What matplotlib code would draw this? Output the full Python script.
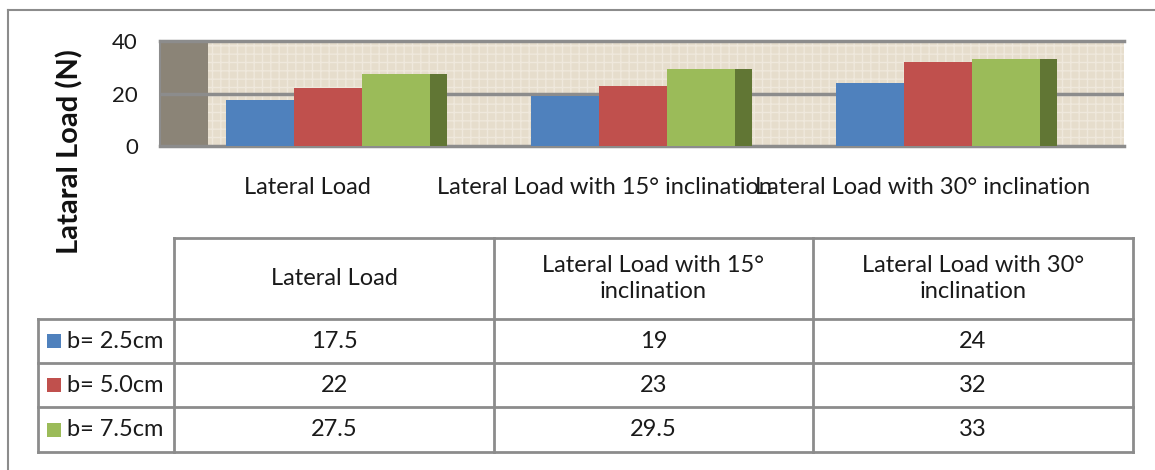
import matplotlib
matplotlib.use("Agg")
import matplotlib.pyplot as plt
import numpy as np
from matplotlib.patches import Rectangle

# ---- data ----
categories = ["Lateral Load", "Lateral Load with 15° inclination", "Lateral Load with 30° inclination"]
table_headers = ["Lateral Load", "Lateral Load with 15°\ninclination", "Lateral Load with 30°\ninclination"]
series_names = ["b= 2.5cm", "b= 5.0cm", "b= 7.5cm"]
b25 = [17.5, 19, 24]
b50 = [22, 23, 32]
b75 = [27.5, 29.5, 33]
table_text = [["17.5", "19", "24"], ["22", "23", "32"], ["27.5", "29.5", "33"]]
yticks = [0, 20, 40]
ylabel = "Lataral Load (N)"

colors = ["#4f81bd", "#c0504d", "#9bbb59"]
side_color = "#617634"
grid_color = "#8c8c8c"

plt.rcParams['font.family'] = ['Lato', 'DejaVu Sans']

W, H = 1155, 470
fig = plt.figure(figsize=(W / 100, H / 100), dpi=100)

def fx(px):
    return px / W

def fy(py):
    return 1 - py / H

# overlay axes in pixel coordinates for frame & table
ov = fig.add_axes([0, 0, 1, 1], zorder=0)
ov.set_xlim(0, W)
ov.set_ylim(H, 0)
ov.axis("off")

# outer frame (left & top visible)
ov.plot([8, 8], [470, 10], color="#8c8c8c", lw=1.5)
ov.plot([8, 1155], [10, 10], color="#8c8c8c", lw=1.5)

# ---- chart axes ----
ax_l, ax_r, ax_t, ax_b = 160, 1124, 41, 146
ax = fig.add_axes([fx(ax_l), fy(ax_b), fx(ax_r - ax_l), (ax_b - ax_t) / H], zorder=2)
unit = 305.0
x_left = (ax_l - 328) / unit
x_right = (ax_r - 328) / unit
wall_right = (208 - 328) / unit
ax.set_xlim(x_left, x_right)
ax.set_ylim(0, 40)

# background linen-like
ax.set_facecolor("#e6ddcc")
ax.axvspan(x_left, wall_right, color="#8b8477", zorder=0.5, lw=0)
ax.add_patch(Rectangle((wall_right, 0), x_right - wall_right, 40, facecolor="none",
                       edgecolor="#efe8dc", hatch="++", lw=0, zorder=0.4))
ax.axhline(20, color=grid_color, lw=2.5, zorder=1)

w = 68 / unit
side_w = 17 / unit
x = np.arange(len(categories))
series = [b25, b50, b75]
for j, vals in enumerate(series):
    ax.bar(x + (j - 1) * w, vals, width=w, color=colors[j], zorder=3, linewidth=0)
# visible side face of last series
ax.bar(x + 1.5 * w + side_w / 2, b75, width=side_w, color=side_color, zorder=3, linewidth=0)

ax.set_yticks(yticks)
ax.set_yticklabels([str(v) for v in yticks], fontsize=16, color="#1a1a1a")
ax.tick_params(axis="y", length=0, pad=16)
label_pos = x + np.array([-0.066, -0.095, -0.049])
ax.set_xticks(label_pos)
ax.set_xticklabels(categories, fontsize=17, color="#1a1a1a")
ax.tick_params(axis="x", length=0, pad=22)

ax.spines["right"].set_visible(False)
for s in ["top", "bottom", "left"]:
    ax.spines[s].set_color(grid_color)
ax.spines["top"].set_linewidth(2.5)
ax.spines["bottom"].set_linewidth(2.5)
ax.spines["left"].set_linewidth(1.5)

fig.text(fx(70), fy(152), ylabel, rotation=90, ha="center", va="center",
         fontsize=21, fontweight="bold", color="#111111")

# ---- data table ----
col_x = [174, 494, 813, 1133]
row_y = [238, 319, 363, 407, 452]
lbl_x0 = 38
lc = "#8c8c8c"
lw = 2
ov.plot([col_x[0], col_x[-1]], [row_y[0], row_y[0]], color=lc, lw=lw)
for cx in col_x:
    ov.plot([cx, cx], [row_y[0], row_y[-1]], color=lc, lw=lw)
for ry in row_y[1:]:
    ov.plot([lbl_x0, col_x[-1]], [ry, ry], color=lc, lw=lw)
ov.plot([lbl_x0, lbl_x0], [row_y[1], row_y[-1]], color=lc, lw=lw)

for k, htxt in enumerate(table_headers):
    cx = (col_x[k] + col_x[k + 1]) / 2
    ov.text(cx, (row_y[0] + row_y[1]) / 2, htxt, ha="center", va="center",
            fontsize=17, color="#1a1a1a", linespacing=1.32)

for r in range(3):
    cy = (row_y[r + 1] + row_y[r + 2]) / 2
    ov.add_patch(Rectangle((47, cy - 7), 14, 14, color=colors[r], lw=0))
    ov.text(67, cy, series_names[r], ha="left", va="center", fontsize=17, color="#1a1a1a")
    for k in range(3):
        cx = (col_x[k] + col_x[k + 1]) / 2
        ov.text(cx, cy, table_text[r][k], ha="center", va="center", fontsize=17, color="#1a1a1a")

fig.savefig("out.png", dpi=100)
